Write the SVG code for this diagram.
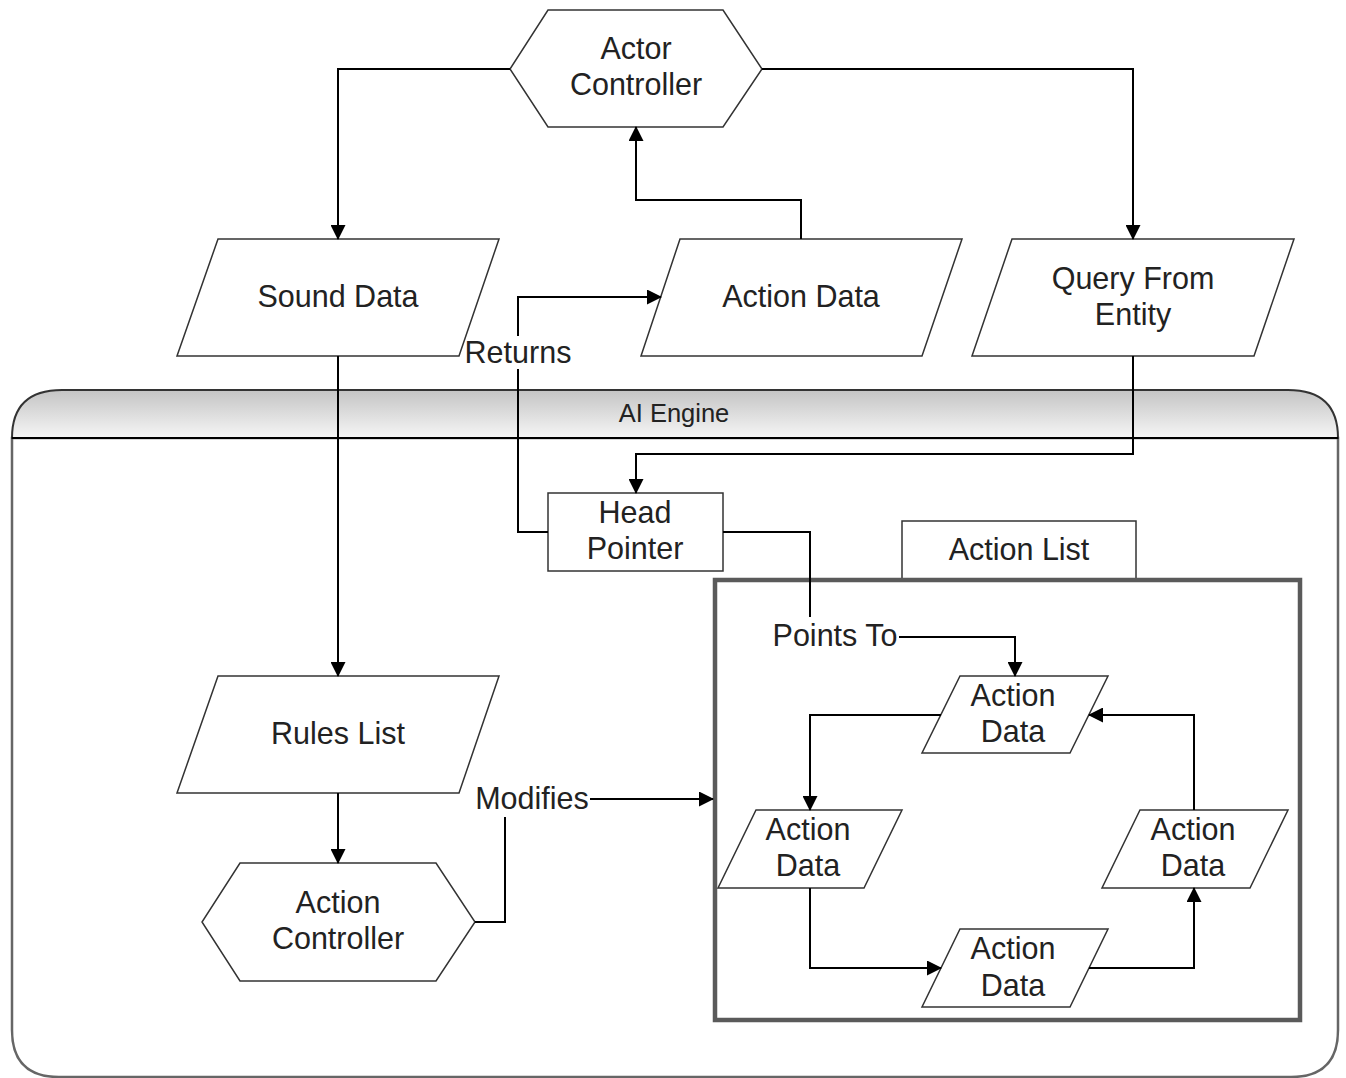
<svg xmlns="http://www.w3.org/2000/svg" width="1346" height="1078" viewBox="0 0 1346 1078">
  <defs>
    <linearGradient id="hdr" x1="0" y1="0" x2="0" y2="1">
      <stop offset="0" stop-color="#c4c4c4"/>
      <stop offset="1" stop-color="#f6f6f6"/>
    </linearGradient>
    <marker id="arr" markerUnits="userSpaceOnUse" markerWidth="15" markerHeight="15" viewBox="0 0 15 15" refX="14" refY="7.5" orient="auto">
      <path d="M0,0 L15,7.5 L0,15 Z" fill="#000"/>
    </marker>
    <style>
      .shape { fill: #fff; stroke: #333; stroke-width: 1.5; }
      .lbl { font-family: "Liberation Sans", Arial, sans-serif; font-size: 30.5px; fill: #222; text-anchor: middle; }
      .small { font-size: 25.5px; }
      .wire { fill: none; stroke: #000; stroke-width: 2; }
      .arrow { marker-end: url(#arr); }
    </style>
  </defs>
  <rect width="1346" height="1078" fill="#fff"/>

  <!-- AI Engine container -->
  <g id="ai-engine">
    <path d="M12,438 L12,1030 Q12,1077 59,1077 L1291,1077 Q1338,1077 1338,1030 L1338,438 Z" fill="#fff" stroke="#666" stroke-width="2.5"/>
    <path d="M12,438 Q12,390 62,390 L1288,390 Q1338,390 1338,438 Z" fill="url(#hdr)" stroke="#333" stroke-width="2"/>
    <line x1="12" y1="438" x2="1338" y2="438" stroke="#000" stroke-width="2"/>
    <text class="lbl small" x="674" y="422">AI Engine</text>
  </g>

  <!-- Action List container -->
  <g id="action-list">
    <rect x="902" y="521" width="234" height="58" class="shape"/>
    <text class="lbl" x="1019" y="560">Action List</text>
    <rect x="715" y="580" width="585" height="440" fill="none" stroke="#5a5a5a" stroke-width="4.5"/>
  </g>

  <!-- Nodes -->
  <g id="actor-controller">
    <polygon class="shape" points="548,10 723,10 762,69 723,127 548,127 510,69"/>
    <text class="lbl" x="636" y="59">Actor</text>
    <text class="lbl" x="636" y="95">Controller</text>
  </g>

  <g id="sound-data">
    <polygon class="shape" points="218,239 499,239 459,356 177,356"/>
    <text class="lbl" x="338" y="307">Sound Data</text>
  </g>

  <g id="action-data-top">
    <polygon class="shape" points="680,239 962,239 922,356 641,356"/>
    <text class="lbl" x="801" y="307">Action Data</text>
  </g>

  <g id="query-from-entity">
    <polygon class="shape" points="1012,239 1294,239 1254,356 972,356"/>
    <text class="lbl" x="1133" y="289">Query From</text>
    <text class="lbl" x="1133" y="325">Entity</text>
  </g>

  <g id="head-pointer">
    <rect x="548" y="493" width="175" height="78" class="shape"/>
    <text class="lbl" x="635" y="523">Head</text>
    <text class="lbl" x="635" y="559">Pointer</text>
  </g>

  <g id="rules-list">
    <polygon class="shape" points="218,676 499,676 459,793 177,793"/>
    <text class="lbl" x="338" y="744">Rules List</text>
  </g>

  <g id="action-controller">
    <polygon class="shape" points="240,863 436,863 475,922 436,981 240,981 202,922"/>
    <text class="lbl" x="338" y="913">Action</text>
    <text class="lbl" x="338" y="949">Controller</text>
  </g>

  <g id="list-item-1">
    <polygon class="shape" points="960,676 1108,676 1070,753 922,753"/>
    <text class="lbl" x="1013" y="706">Action</text>
    <text class="lbl" x="1013" y="742">Data</text>
  </g>

  <g id="list-item-2">
    <polygon class="shape" points="756,810 902,810 864,888 718,888"/>
    <text class="lbl" x="808" y="840">Action</text>
    <text class="lbl" x="808" y="876">Data</text>
  </g>

  <g id="list-item-3">
    <polygon class="shape" points="960,929 1108,929 1070,1007 922,1007"/>
    <text class="lbl" x="1013" y="959">Action</text>
    <text class="lbl" x="1013" y="996">Data</text>
  </g>

  <g id="list-item-4">
    <polygon class="shape" points="1140,810 1288,810 1250,888 1102,888"/>
    <text class="lbl" x="1193" y="840">Action</text>
    <text class="lbl" x="1193" y="876">Data</text>
  </g>

  <!-- Connectors -->
  <g id="connectors">
    <path class="wire arrow" d="M510,69 L338,69 L338,239"/>
    <path class="wire arrow" d="M762,69 L1133,69 L1133,239"/>
    <path class="wire arrow" d="M801,239 L801,200 L636,200 L636,127"/>
    <path class="wire arrow" d="M1133,356 L1133,454 L636,454 L636,493"/>
    <path class="wire arrow" d="M338,356 L338,676"/>
    <path class="wire arrow" d="M338,793 L338,863"/>

    <!-- Returns -->
    <path class="wire" d="M548,532 L518,532 L518,369"/>
    <path class="wire arrow" d="M518,336 L518,297 L661,297"/>
    <text class="lbl" x="518" y="363">Returns</text>

    <!-- Points To -->
    <path class="wire" d="M723,532 L810,532 L810,617"/>
    <path class="wire arrow" d="M899,637 L1015,637 L1015,676"/>
    <text class="lbl" x="835" y="646">Points To</text>

    <!-- Modifies -->
    <path class="wire" d="M475,922 L505,922 L505,817"/>
    <path class="wire arrow" d="M590,799 L713,799"/>
    <text class="lbl" x="532" y="809">Modifies</text>

    <!-- List links -->
    <path class="wire arrow" d="M941,715 L810,715 L810,810"/>
    <path class="wire arrow" d="M810,888 L810,968 L941,968"/>
    <path class="wire arrow" d="M1089,968 L1194,968 L1194,888"/>
    <path class="wire arrow" d="M1194,810 L1194,715 L1089,715"/>
  </g>
</svg>
